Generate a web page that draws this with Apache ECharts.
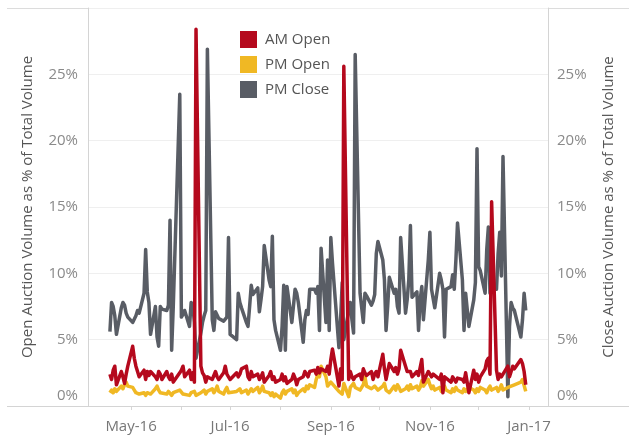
<!DOCTYPE html>
<html>
<head>
<meta charset="utf-8">
<script src="https://cdn.jsdelivr.net/npm/echarts@6/dist/echarts.min.js"></script>
<style>
  html, body { margin: 0; padding: 0; background: #fff; }
  #chart { width: 629px; height: 436px; }
</style>
</head>
<body>
<div id="chart"></div>
<script>
// trading days per month (2016), x categories
const tradingDays = [
  [3, [18, 19, 20, 21, 22, 25, 26, 27, 28, 29]],
  [4, [2, 3, 4, 5, 6, 9, 10, 11, 12, 13, 16, 17, 18, 19, 20, 23, 24, 25, 26, 27, 31]],
  [5, [1, 2, 3, 6, 7, 8, 9, 10, 13, 14, 15, 16, 17, 20, 21, 22, 23, 24, 27, 28, 29, 30]],
  [6, [1, 5, 6, 7, 8, 11, 12, 13, 14, 15, 18, 19, 20, 21, 22, 25, 26, 27, 28, 29]],
  [7, [1, 2, 3, 4, 5, 8, 9, 10, 11, 12, 15, 16, 17, 18, 19, 22, 23, 24, 25, 26, 29, 30, 31]],
  [8, [1, 2, 6, 7, 8, 9, 12, 13, 14, 15, 16, 19, 20, 21, 22, 23, 26, 27, 28, 29, 30]],
  [9, [3, 4, 5, 6, 7, 10, 11, 12, 13, 14, 17, 18, 19, 20, 21, 24, 25, 26, 27, 28, 31]],
  [10, [1, 2, 3, 4, 7, 8, 9, 10, 11, 14, 15, 16, 17, 18, 21, 22, 23, 25, 28, 29, 30]],
  [11, [1, 2, 5, 6, 7, 8, 9, 12, 13, 14, 15, 16, 19, 20, 21, 22, 23, 27, 28, 29, 30]]
];

// AM Open auction volume, % of total
const amOpen = [
  2.4, 2.0, 2.7, 3.0, 1.6, 2.6, 2.2, 1.7, 2.4, 3.0,
  4.5, 3.6, 3.0, 2.6, 2.2, 2.7, 2.0, 2.6, 2.3, 2.6, 2.2, 2.0, 2.6, 2.4, 2.0, 2.6, 2.2, 2.0, 2.4, 1.8, 2.5,
  2.7, 3.0, 2.2, 2.7, 2.0, 2.5, 1.8, 28.4, 3.0, 2.5, 2.3, 1.8, 2.2, 2.0, 1.9, 2.6, 2.2, 2.0, 2.5, 3.0, 2.4, 2.2,
  2.0, 2.5, 2.2, 2.4, 2.8, 3.0, 2.2, 2.0, 2.6, 2.2, 2.4, 2.0, 2.2, 2.5, 1.8, 2.3, 2.6, 2.0, 2.2, 1.8,
  2.0, 2.4, 1.9, 2.2, 1.7, 2.0, 2.4, 2.1, 1.6, 2.0, 2.2, 2.6, 2.4, 2.2, 2.6, 2.7, 2.4, 2.9, 2.5, 2.8, 2.6, 3.0, 2.4,
  3.5, 4.3, 1.5, 2.8, 2.0, 25.6, 2.0, 2.6, 2.2, 2.0, 2.2, 2.4, 2.0, 2.8, 2.5, 2.3, 2.6, 2.0, 2.4, 2.6, 2.2,
  3.9, 2.8, 2.0, 2.6, 3.2, 2.6, 2.9, 2.4, 2.8, 4.2, 3.0, 2.6, 2.7, 2.6, 2.2, 2.6, 2.3, 2.4, 3.5, 1.8, 2.6,
  2.6, 2.2, 2.4, 2.3, 2.0, 2.4, 1.0, 2.2, 2.3, 1.8, 2.2, 2.0, 1.8, 2.1, 2.0, 1.8, 2.5, 1.0, 2.7, 2.0, 2.4,
  1.8, 2.2, 2.8, 3.4, 3.6, 2.4, 15.4, 2.7, 2.0, 2.4, 2.2, 2.4, 3.0, 2.2, 2.6, 3.0, 2.8, 3.5, 3.2, 2.6, 1.6
];

// PM Open
const pmOpen = [
  1.0, 1.2, 1.0, 1.3, 1.1, 1.5, 1.3, 1.6, 1.8, 1.5,
  1.4, 1.2, 1.0, 1.1, 0.9, 1.0, 0.8, 1.0, 1.1, 0.9, 1.3, 1.5, 1.2, 1.0, 1.1, 0.9, 1.1, 1.0, 0.8, 1.0, 1.2,
  1.1, 0.9, 1.0, 0.8, 1.0, 0.9, 1.1, 0.8, 1.0, 0.9, 1.2, 0.9, 1.1, 1.3, 1.0, 1.2, 1.5, 1.1, 0.9, 1.2, 1.4, 1.0,
  0.9, 1.1, 1.0, 1.3, 1.0, 1.2, 0.9, 1.1, 1.3, 1.1, 1.4, 1.0, 1.2, 1.5, 1.1, 1.0, 0.8, 1.0, 0.7, 0.9,
  0.6, 1.0, 1.2, 0.9, 1.1, 1.3, 1.0, 1.2, 0.8, 1.0, 1.3, 1.1, 1.5, 1.3, 1.6, 1.4, 2.0, 2.4, 2.2, 3.0, 2.2, 1.5, 1.6,
  1.8, 1.9, 1.1, 1.0, 0.9, 1.7, 0.7, 1.4, 1.5, 1.7, 1.4, 1.2, 1.4, 1.6, 2.2, 1.5, 1.3, 1.2, 1.5, 1.6, 1.2,
  1.5, 1.7, 1.2, 1.3, 1.0, 1.5, 1.2, 1.6, 1.4, 1.1, 1.3, 1.5, 1.2, 1.6, 1.3, 1.5, 1.2, 1.4, 1.9, 1.5, 2.0,
  1.6, 1.3, 1.5, 1.2, 1.4, 1.1, 1.3, 1.5, 1.2, 1.0, 1.3, 1.1, 1.4, 1.2, 1.0, 1.3, 1.1, 1.4, 1.2, 1.0, 1.3,
  1.1, 1.4, 1.2, 1.0, 1.3, 1.5, 1.2, 1.4, 1.1, 1.3, 1.6, 1.2, 1.4, 1.3, 1.5, 1.4, 1.6, 1.8, 2.0, 1.9, 1.1
];

// PM Close (right axis)
const pmClose = [
  5.6, 7.8, 7.5, 6.8, 5.4, 7.4, 7.8, 7.6, 7.0, 6.7,
  6.3, 6.4, 6.8, 7.2, 7.0, 8.5, 11.8, 8.6, 7.8, 5.4, 7.5, 5.2, 4.5, 7.5, 7.3, 7.2, 7.6, 14.0, 4.2, 7.5, 23.5,
  6.7, 6.9, 7.2, 6.0, 7.8, 7.6, 6.3, 3.6, 5.5, 6.3, 6.8, 7.2, 26.9, 6.5, 5.7, 7.1, 7.0, 6.6, 6.4, 6.5, 6.7, 12.7,
  5.4, 5.0, 8.5, 7.8, 7.4, 6.3, 6.0, 7.5, 9.1, 8.4, 8.9, 7.1, 8.0, 9.0, 12.1, 9.5, 9.0, 12.8, 6.5, 5.7,
  4.2, 6.0, 9.1, 4.2, 9.0, 6.3, 6.2, 8.8, 8.5, 7.8, 4.8, 6.5, 7.2, 6.9, 8.8, 8.8, 8.5, 9.0, 5.7, 11.9, 6.3, 11.0, 5.7,
  12.7, 10.8, 4.4, 6.5, 9.3, 5.0, 7.2, 7.8, 6.5, 5.5, 26.5, 8.5, 7.4, 6.3, 8.5, 8.3, 7.6, 7.9, 8.4, 11.5, 12.4,
  11.0, 9.5, 5.7, 7.5, 9.7, 8.5, 8.8, 7.5, 7.0, 12.7, 7.0, 8.0, 9.5, 13.6, 8.2, 8.6, 5.7, 8.0, 9.0, 6.5, 11.0,
  13.1, 8.8, 8.8, 7.4, 10.0, 9.5, 8.8, 5.2, 8.8, 9.0, 9.9, 8.8, 11.0, 13.8, 9.5, 5.7, 8.5, 6.0, 8.0, 9.3, 19.4,
  10.5, 10.2, 8.5, 11.8, 13.5, 8.5, 9.3, 8.8, 11.5, 13.1, 9.8, 18.8, 0.7, 6.0, 7.8, 7.4, 7.2, 5.2, 6.5, 8.5, 7.2
];

// axis ticks: every month start, labels every other month
const tickMonths = [[2016, 4], [2016, 5], [2016, 6], [2016, 7], [2016, 8], [2016, 9], [2016, 10], [2016, 11], [2017, 0]];
const labelMonths = [[2016, 4], [2016, 6], [2016, 8], [2016, 10], [2017, 0]];
const monthNames = ['Jan', 'Feb', 'Mar', 'Apr', 'May', 'Jun', 'Jul', 'Aug', 'Sep', 'Oct', 'Nov', 'Dec'];

const colors = { am: '#b5091d', pm: '#f0b824', close: '#595d65' };
const font = '"Open Sans", "Noto Sans", sans-serif';

const dates = [];
tradingDays.forEach(([m, days]) => days.forEach(d => dates.push(new Date(2016, m, d).getTime())));

const pair = vals => dates.map((t, i) => [t, vals[i]]);
const ts = ([y, m]) => new Date(y, m, 1).getTime();

const chart = echarts.init(document.getElementById('chart'));

const pctLabel = {
  fontSize: 15,
  fontFamily: font,
  color: '#8a8a8a',
  formatter: v => v === 0 ? '{z|0%}' : (v >= 30 ? '' : v + '%'),
  rich: { z: { fontSize: 15, fontFamily: font, color: '#8a8a8a', padding: [0, 0, 21, 0] } }
};

chart.setOption({
  animation: false,
  textStyle: { fontFamily: font },
  grid: { left: 88, right: 81, top: 8, bottom: 30 },
  legend: {
    orient: 'vertical',
    left: 235,
    top: 26,
    icon: 'rect',
    itemWidth: 17,
    itemHeight: 17,
    itemGap: 8,
    textStyle: { fontSize: 15, color: '#555', fontFamily: font, padding: [0, 0, 0, 3] },
    data: ['AM Open', 'PM Open', 'PM Close']
  },
  xAxis: {
    type: 'value',
    min: new Date(2016, 3, 4, 12).getTime(),
    max: new Date(2017, 0, 12, 17).getTime(),
    axisLine: { show: false },
    splitLine: { show: false },
    axisTick: {
      show: true,
      customValues: tickMonths.map(ts),
      length: 4,
      lineStyle: { color: '#d6d6d6' }
    },
    axisLabel: {
      customValues: labelMonths.map(ts),
      fontSize: 15,
      fontFamily: font,
      color: '#777',
      margin: 13,
      formatter: v => {
        const d = new Date(v);
        return monthNames[d.getMonth()] + '-' + String(d.getFullYear()).slice(2);
      }
    }
  },
  yAxis: [
    {
      type: 'value', position: 'left', min: 0, max: 30, interval: 5,
      name: 'Open Auction Volume as % of Total Volume',
      nameLocation: 'middle', nameRotate: 90, nameGap: 53,
      nameTextStyle: { fontSize: 15, color: '#555', fontFamily: font },
      axisLine: { show: true, lineStyle: { color: '#d4d4d4' } },
      axisTick: { show: false },
      splitLine: { lineStyle: { color: '#efefef' } },
      axisLabel: Object.assign({ margin: 10 }, pctLabel)
    },
    {
      type: 'value', position: 'right', min: 0, max: 30, interval: 5,
      name: 'Close Auction Volume as % of Total Volume',
      nameLocation: 'middle', nameRotate: 90, nameGap: 53,
      nameTextStyle: { fontSize: 15, color: '#555', fontFamily: font },
      axisLine: { show: true, lineStyle: { color: '#d4d4d4' } },
      axisTick: { show: false },
      splitLine: { show: false },
      axisLabel: Object.assign({ margin: 9 }, pctLabel)
    }
  ],
  graphic: [
    { type: 'line', shape: { x1: 7, y1: 8.5, x2: 629, y2: 8.5 }, style: { stroke: '#dcdcdc', lineWidth: 1 }, silent: true },
    { type: 'line', shape: { x1: 7, y1: 406.5, x2: 629, y2: 406.5 }, style: { stroke: '#d4d4d4', lineWidth: 1 }, silent: true, z: 10 }
  ],
  series: [
    {
      name: 'PM Close', type: 'line', yAxisIndex: 1, data: pair(pmClose),
      showSymbol: false, color: colors.close, z: 2,
      lineStyle: { width: 3.5, join: 'round' }
    },
    {
      name: 'PM Open', type: 'line', yAxisIndex: 0, data: pair(pmOpen),
      showSymbol: false, color: colors.pm, z: 3,
      lineStyle: { width: 3.5, join: 'round' }
    },
    {
      name: 'AM Open', type: 'line', yAxisIndex: 0, data: pair(amOpen),
      showSymbol: false, color: colors.am, z: 4,
      lineStyle: { width: 3.5, join: 'round' }
    }
  ]
});
</script>
</body>
</html>
